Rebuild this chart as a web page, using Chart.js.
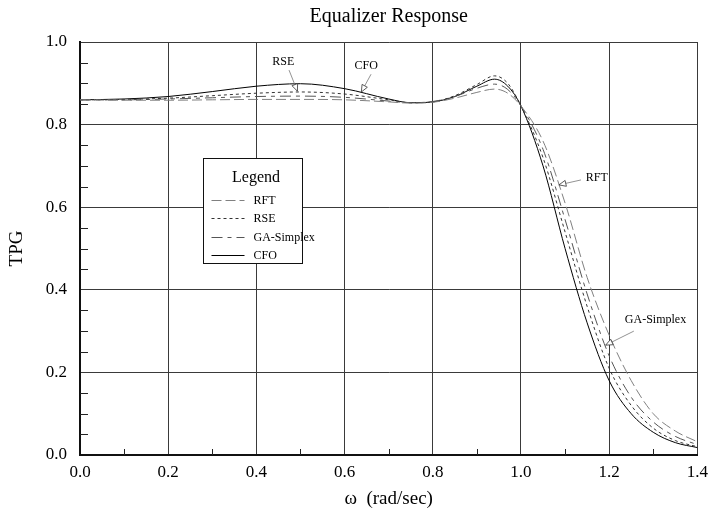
<!DOCTYPE html>
<html>
<head>
<meta charset="utf-8">
<title>Equalizer Response</title>
<script src="https://cdn.jsdelivr.net/npm/chart.js@4.4.0/dist/chart.umd.min.js"></script>
<style>
  html, body { margin: 0; padding: 0; background: #fff; }
  #wrap { width: 715px; height: 516px; }
</style>
</head>
<body>
<div id="wrap"><canvas id="eqChart" width="715" height="516"></canvas></div>
<script>
// frequency samples (rad/sec)
const omega = [0, 0.1, 0.2, 0.3, 0.4, 0.5, 0.6, 0.7, 0.75, 0.8, 0.85, 0.9, 0.94, 0.97,
               1.0, 1.05, 1.1, 1.15, 1.2, 1.25, 1.3, 1.35, 1.4];

// transducer power gain for each design method
const tpgRFT = [0.860, 0.859, 0.859, 0.860, 0.861, 0.861, 0.860, 0.855, 0.852, 0.854, 0.864, 0.878, 0.886, 0.876,
                0.845, 0.760, 0.610, 0.430, 0.290, 0.180, 0.100, 0.058, 0.032];
const tpgRSE = [0.860, 0.861, 0.864, 0.870, 0.876, 0.879, 0.874, 0.860, 0.853, 0.855, 0.870, 0.897, 0.918, 0.900,
                0.845, 0.720, 0.540, 0.360, 0.210, 0.120, 0.065, 0.035, 0.020];
const tpgGA  = [0.860, 0.860, 0.862, 0.865, 0.868, 0.869, 0.866, 0.857, 0.853, 0.856, 0.868, 0.888, 0.898, 0.885,
                0.845, 0.740, 0.570, 0.390, 0.240, 0.140, 0.080, 0.045, 0.025];
const tpgCFO = [0.860, 0.862, 0.868, 0.880, 0.893, 0.899, 0.887, 0.862, 0.853, 0.855, 0.868, 0.893, 0.910, 0.893,
                0.845, 0.700, 0.500, 0.320, 0.180, 0.100, 0.055, 0.030, 0.018];

const seriesNames = ['RFT', 'RSE', 'GA-Simplex', 'CFO'];
const xTicks = [0, 0.2, 0.4, 0.6, 0.8, 1.0, 1.2, 1.4];
const yTicks = [0, 0.2, 0.4, 0.6, 0.8, 1.0];

const SERIF = '"Liberation Serif", "DejaVu Serif", serif';

// callouts: label position and arrow tip, in data units
const callouts = [
  { text: 'RSE', tx: 0.461, ty: 0.951, sx: 0.474, sy: 0.932, ex: 0.493, ey: 0.881 },
  { text: 'CFO', tx: 0.649, ty: 0.942, sx: 0.660, sy: 0.922, ex: 0.638, ey: 0.879 },
  { text: 'RFT', tx: 1.172, ty: 0.671, sx: 1.136, sy: 0.666, ex: 1.086, ey: 0.654 },
  { text: 'GA-Simplex', tx: 1.305, ty: 0.327, sx: 1.256, sy: 0.300, ex: 1.192, ey: 0.266 }
];

function pts(vals) {
  return omega.map((w, i) => ({ x: w, y: vals[i] }));
}

const styles = [
  { color: '#808080', dash: [10, 4] },
  { color: '#333333', dash: [3, 3] },
  { color: '#555555', dash: [11, 5, 4, 5] },
  { color: '#000000', dash: [] }
];

const datasets = [tpgRFT, tpgRSE, tpgGA, tpgCFO].map((vals, i) => ({
  label: seriesNames[i],
  data: pts(vals),
  borderColor: styles[i].color,
  borderDash: styles[i].dash,
  borderWidth: 1,
  pointRadius: 0,
  fill: false,
  cubicInterpolationMode: 'monotone'
}));

// title centred over the plot area
const titlePlugin = {
  id: 'plotTitle',
  afterDraw(chart) {
    const { ctx, chartArea } = chart;
    ctx.save();
    ctx.fillStyle = '#000';
    ctx.font = '20px ' + SERIF;
    ctx.textAlign = 'center';
    ctx.textBaseline = 'middle';
    ctx.fillText('Equalizer Response', (chartArea.left + chartArea.right) / 2, 17);
    ctx.restore();
  }
};

// short inward minor ticks on the left and bottom axes
const minorTicks = {
  id: 'minorTicks',
  afterDatasetsDraw(chart) {
    const { ctx, chartArea, scales } = chart;
    ctx.save();
    ctx.strokeStyle = '#222';
    ctx.lineWidth = 1;
    ctx.beginPath();
    for (let k = 1; k < 14; k += 2) {
      const x = Math.round(scales.x.getPixelForValue(k / 10)) + 0.5;
      ctx.moveTo(x, chartArea.bottom);
      ctx.lineTo(x, chartArea.bottom - 6);
    }
    for (let k = 1; k < 20; k++) {
      if (k % 4 === 0) continue;
      const y = Math.round(scales.y.getPixelForValue(k / 20)) + 0.5;
      ctx.moveTo(chartArea.left, y);
      ctx.lineTo(chartArea.left + 8, y);
    }
    ctx.stroke();
    ctx.restore();
  }
};

// callout labels with thin leader lines and open arrowheads
const calloutPlugin = {
  id: 'callouts',
  afterDatasetsDraw(chart) {
    const { ctx, scales } = chart;
    const px = v => scales.x.getPixelForValue(v);
    const py = v => scales.y.getPixelForValue(v);
    ctx.save();
    ctx.font = '12px ' + SERIF;
    ctx.textAlign = 'center';
    ctx.textBaseline = 'middle';
    callouts.forEach(c => {
      const sx = px(c.sx), sy = py(c.sy), ex = px(c.ex), ey = py(c.ey);
      ctx.strokeStyle = '#777';
      ctx.lineWidth = 0.8;
      ctx.beginPath();
      ctx.moveTo(sx, sy);
      ctx.lineTo(ex, ey);
      ctx.stroke();
      const ang = Math.atan2(ey - sy, ex - sx);
      const len = 7, half = 3;
      const bx = ex - len * Math.cos(ang), by = ey - len * Math.sin(ang);
      ctx.beginPath();
      ctx.moveTo(ex, ey);
      ctx.lineTo(bx + half * Math.sin(ang), by - half * Math.cos(ang));
      ctx.lineTo(bx - half * Math.sin(ang), by + half * Math.cos(ang));
      ctx.closePath();
      ctx.fillStyle = '#fff';
      ctx.fill();
      ctx.strokeStyle = '#333';
      ctx.stroke();
      ctx.fillStyle = '#000';
      ctx.fillText(c.text, px(c.tx), py(c.ty));
    });
    ctx.restore();
  }
};

// boxed legend sitting inside the plot
const legendBox = {
  id: 'legendBox',
  afterDatasetsDraw(chart) {
    const { ctx, scales } = chart;
    const left = Math.round(scales.x.getPixelForValue(0.278)) + 0.5;
    const right = Math.round(scales.x.getPixelForValue(0.504)) + 0.5;
    const top = Math.round(scales.y.getPixelForValue(0.719)) + 0.5;
    const bottom = Math.round(scales.y.getPixelForValue(0.465)) + 0.5;
    ctx.save();
    ctx.fillStyle = '#fff';
    ctx.fillRect(left, top, right - left, bottom - top);
    ctx.strokeStyle = '#111';
    ctx.lineWidth = 1;
    ctx.strokeRect(left, top, right - left, bottom - top);

    ctx.fillStyle = '#000';
    ctx.textBaseline = 'middle';
    ctx.textAlign = 'center';
    ctx.font = '16px ' + SERIF;
    ctx.fillText('Legend', (left + right) / 2 + 3, top + 19);

    ctx.textAlign = 'left';
    ctx.font = '12px ' + SERIF;
    chart.data.datasets.forEach((ds, i) => {
      const y = Math.round(top + 41 + i * 18.5) + 0.5;
      ctx.strokeStyle = ds.borderColor;
      ctx.lineWidth = 1.2;
      ctx.setLineDash(ds.borderDash);
      ctx.beginPath();
      ctx.moveTo(left + 8, y);
      ctx.lineTo(left + 41, y);
      ctx.stroke();
      ctx.setLineDash([]);
      ctx.fillText(ds.label, left + 50, y);
    });
    ctx.restore();
  }
};

new Chart(document.getElementById('eqChart'), {
  type: 'line',
  data: { datasets },
  options: {
    responsive: false,
    animation: false,
    layout: { padding: { top: 42, right: 16, left: 0, bottom: 0 } },
    plugins: {
      legend: { display: false },
      tooltip: { enabled: false },
      title: { display: false }
    },
    scales: {
      x: {
        type: 'linear',
        min: 0,
        max: 1.4,
        afterBuildTicks: s => { s.ticks = xTicks.map(v => ({ value: v })); },
        afterFit: s => { s.height = 61; },
        ticks: {
          color: '#000',
          padding: 7,
          maxRotation: 0,
          font: { family: SERIF, size: 17 },
          callback: v => v.toFixed(1)
        },
        grid: { color: '#3a3a3a', lineWidth: 1, drawTicks: false },
        border: { color: '#111', width: 2 },
        title: {
          display: true,
          text: 'ω  (rad/sec)',
          color: '#000',
          font: { family: SERIF, size: 19 },
          padding: { top: 0, bottom: 6 }
        }
      },
      y: {
        type: 'linear',
        min: 0,
        max: 1.0,
        afterBuildTicks: s => { s.ticks = yTicks.map(v => ({ value: v })); },
        afterFit: s => { s.width = 80; },
        ticks: {
          color: '#000',
          padding: 13,
          font: { family: SERIF, size: 17 },
          callback: v => v.toFixed(1)
        },
        grid: { color: '#3a3a3a', lineWidth: 1, drawTicks: false },
        border: { color: '#111', width: 2 },
        title: {
          display: true,
          text: 'TPG',
          color: '#000',
          font: { family: SERIF, size: 19 },
          padding: { top: 6, bottom: 0 }
        }
      }
    }
  },
  plugins: [minorTicks, legendBox, calloutPlugin, titlePlugin]
});
</script>
</body>
</html>
